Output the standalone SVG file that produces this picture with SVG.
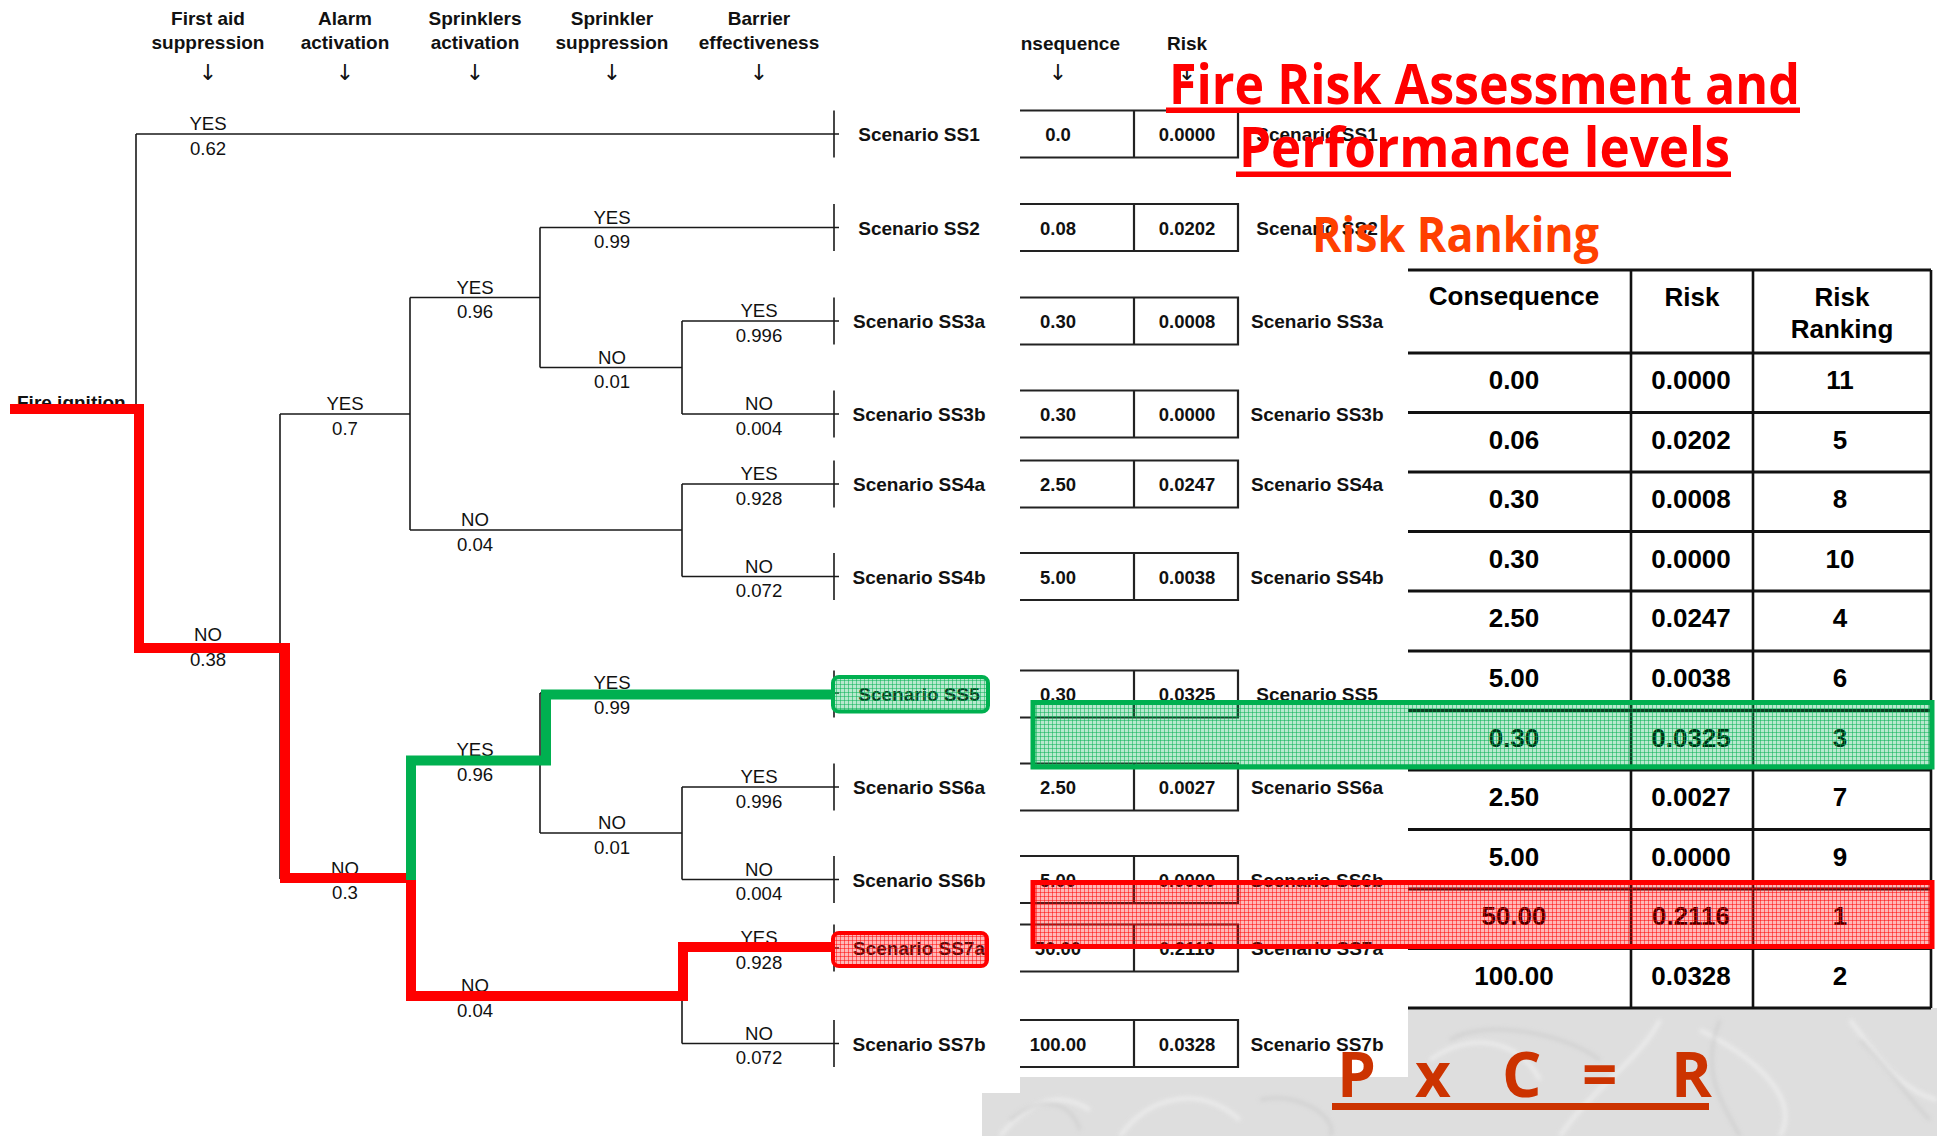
<svg xmlns="http://www.w3.org/2000/svg" width="1937" height="1136" viewBox="0 0 1937 1136">
<defs>
<style>
.hd{font-family:"Liberation Sans",Arial,sans-serif;font-weight:bold;font-size:19px;text-anchor:middle;fill:#111}
.ar{font-family:"DejaVu Sans",sans-serif;font-size:22px;text-anchor:middle;fill:#111}
.lb{font-family:"Liberation Sans",Arial,sans-serif;font-size:18.6px;text-anchor:middle;fill:#111}
.sc{font-family:"Liberation Sans",Arial,sans-serif;font-weight:bold;font-size:19px;text-anchor:middle;fill:#111}
.mv{font-family:"Liberation Sans",Arial,sans-serif;font-weight:bold;font-size:18.5px;text-anchor:middle;fill:#111}
.rv{font-family:"Liberation Sans",Arial,sans-serif;font-weight:bold;font-size:26px;text-anchor:middle;fill:#000}
.tl{stroke:#1a1a1a;stroke-width:1.6;fill:none}
.mt{stroke:#222;stroke-width:2.2;fill:none}
.rh{stroke:#111;stroke-width:3.2;fill:none}
.rvl{stroke:#111;stroke-width:2.6;fill:none}
.title{font-family:"Open Sans","Liberation Sans",sans-serif;font-weight:bold}
</style>
<pattern id="pg" width="4" height="4" patternUnits="userSpaceOnUse"><rect width="4" height="4" fill="#00B050" fill-opacity="0.28"/><path d="M0,0.5H4M0.5,0V4" stroke="#00B050" stroke-opacity="0.5" stroke-width="1"/></pattern>
<pattern id="pr" width="4" height="4" patternUnits="userSpaceOnUse"><rect width="4" height="4" fill="#FF0000" fill-opacity="0.28"/><path d="M0,0.5H4M0.5,0V4" stroke="#FF0000" stroke-opacity="0.5" stroke-width="1"/></pattern>
<filter id="soft" x="-10%" y="-10%" width="120%" height="120%"><feGaussianBlur stdDeviation="2"/></filter>
</defs>
<rect width="1937" height="1136" fill="#fff"/>
<g id="texture">
<path d="M982,1136 L982,1093 L1020,1093 L1020,1077 L1408,1077 L1408,1008 L1937,1008 L1937,1136 Z" fill="#dedede"/>
<g fill="none" stroke="#f2f2f2" stroke-width="4" opacity="0.7" filter="url(#soft)">
<path d="M1000,1136 C1030,1100 1060,1090 1090,1110"/>
<path d="M1120,1136 C1150,1095 1200,1085 1240,1120"/>
<path d="M1430,1060 C1470,1030 1520,1040 1540,1080"/>
<path d="M1700,1030 C1760,1060 1800,1100 1780,1136"/>
<path d="M1850,1020 C1880,1060 1900,1090 1937,1100"/>
<path d="M1560,1136 C1590,1090 1640,1060 1660,1020"/>
</g>
<g fill="none" stroke="#c6c6c6" stroke-width="3" opacity="0.6" filter="url(#soft)">
<path d="M1010,1120 C1040,1095 1070,1100 1080,1130"/>
<path d="M1260,1100 C1300,1090 1340,1120 1330,1136"/>
<path d="M1450,1040 C1480,1020 1560,1030 1600,1060"/>
<path d="M1860,1040 C1890,1070 1910,1100 1930,1120"/>
<path d="M1740,1136 C1720,1100 1700,1070 1720,1020"/>
</g>
</g>

<g id="headers">
<text class="hd" x="208" y="25">First aid</text><text class="hd" x="208" y="48.5">suppression</text><text class="ar" x="208" y="80">↓</text>
<text class="hd" x="345" y="25">Alarm</text><text class="hd" x="345" y="48.5">activation</text><text class="ar" x="345" y="80">↓</text>
<text class="hd" x="475" y="25">Sprinklers</text><text class="hd" x="475" y="48.5">activation</text><text class="ar" x="475" y="80">↓</text>
<text class="hd" x="612" y="25">Sprinkler</text><text class="hd" x="612" y="48.5">suppression</text><text class="ar" x="612" y="80">↓</text>
<text class="hd" x="759" y="25">Barrier</text><text class="hd" x="759" y="48.5">effectiveness</text><text class="ar" x="759" y="80">↓</text>
<text class="hd" x="1120" y="49.5" style="text-anchor:end">nsequence</text><text class="ar" x="1058" y="80">↓</text>
<text class="hd" x="1187" y="49.5">Risk</text><text class="ar" x="1187" y="80">↓</text>
</g>

<g id="connectors">
<path class="tl" d="M10,409H136 M136,134V648 M136,134H839 M136,645H280"/>
<path class="tl" d="M280,414V879 M280,414H410 M280,879H410"/>
<path class="tl" d="M410,297.5V530 M410,297.5H540 M410,530H682"/>
<path class="tl" d="M410,760V996 M410,760H540 M410,996H682"/>
<path class="tl" d="M540,227.5V367.5 M540,227.5H839 M540,367.5H682"/>
<path class="tl" d="M540,693V833 M540,693H839 M540,833H682"/>
<path class="tl" d="M682,321V414 M682,321H839 M682,414H839"/>
<path class="tl" d="M682,484V576.5 M682,484H839 M682,576.5H839"/>
<path class="tl" d="M682,787V879.5 M682,787H839 M682,879.5H839"/>
<path class="tl" d="M682,948V1043.5 M682,948H839 M682,1043.5H839"/>
<path class="tl" d="M834,110.5v47 M834,204v47 M834,297.5v47 M834,390.5v47 M834,460.5v47 M834,553v47 M834,670.5v47 M834,763.5v47 M834,856v47 M834,924.5v47 M834,1020v47"/>
</g>

<g id="branch-labels">
<text class="lb" x="208" y="130">YES</text><text class="lb" x="208" y="154.5">0.62</text>
<text class="lb" x="208" y="641">NO</text><text class="lb" x="208" y="666">0.38</text>
<text class="lb" x="345" y="410">YES</text><text class="lb" x="345" y="434.5">0.7</text>
<text class="lb" x="345" y="875">NO</text><text class="lb" x="345" y="899">0.3</text>
<text class="lb" x="475" y="293.5">YES</text><text class="lb" x="475" y="318">0.96</text>
<text class="lb" x="475" y="526">NO</text><text class="lb" x="475" y="550.5">0.04</text>
<text class="lb" x="475" y="756">YES</text><text class="lb" x="475" y="781">0.96</text>
<text class="lb" x="475" y="992">NO</text><text class="lb" x="475" y="1016.5">0.04</text>
<text class="lb" x="612" y="223.5">YES</text><text class="lb" x="612" y="248">0.99</text>
<text class="lb" x="612" y="363.5">NO</text><text class="lb" x="612" y="388">0.01</text>
<text class="lb" x="612" y="689">YES</text><text class="lb" x="612" y="713.5">0.99</text>
<text class="lb" x="612" y="829">NO</text><text class="lb" x="612" y="853.5">0.01</text>
<text class="lb" x="759" y="317">YES</text><text class="lb" x="759" y="341.5">0.996</text>
<text class="lb" x="759" y="410">NO</text><text class="lb" x="759" y="434.5">0.004</text>
<text class="lb" x="759" y="480">YES</text><text class="lb" x="759" y="504.5">0.928</text>
<text class="lb" x="759" y="572.5">NO</text><text class="lb" x="759" y="597">0.072</text>
<text class="lb" x="759" y="783">YES</text><text class="lb" x="759" y="807.5">0.996</text>
<text class="lb" x="759" y="875.5">NO</text><text class="lb" x="759" y="900">0.004</text>
<text class="lb" x="759" y="944">YES</text><text class="lb" x="759" y="968.5">0.928</text>
<text class="lb" x="759" y="1039.5">NO</text><text class="lb" x="759" y="1064">0.072</text>
</g>

<g id="node-fire-ignition"><text class="sc" x="17" y="409" style="text-anchor:start">Fire ignition</text></g>
<g id="node-SS1"><text class="sc" x="919" y="141">Scenario SS1</text></g>
<g id="node-SS2"><text class="sc" x="919" y="234.5">Scenario SS2</text></g>
<g id="node-SS3a"><text class="sc" x="919" y="328">Scenario SS3a</text></g>
<g id="node-SS3b"><text class="sc" x="919" y="421">Scenario SS3b</text></g>
<g id="node-SS4a"><text class="sc" x="919" y="491">Scenario SS4a</text></g>
<g id="node-SS4b"><text class="sc" x="919" y="583.5">Scenario SS4b</text></g>
<g id="node-SS5"><text class="sc" x="919" y="701">Scenario SS5</text></g>
<g id="node-SS6a"><text class="sc" x="919" y="794">Scenario SS6a</text></g>
<g id="node-SS6b"><text class="sc" x="919" y="886.5">Scenario SS6b</text></g>
<g id="node-SS7a"><text class="sc" x="919" y="955">Scenario SS7a</text></g>
<g id="node-SS7b"><text class="sc" x="919" y="1050.5">Scenario SS7b</text></g>

<g id="scenario-table">
<path class="mt" d="M1020,110.5H1238V157.5H1020M1134,110.5V157.5"/>
<path class="mt" d="M1020,204H1238V251H1020M1134,204V251"/>
<path class="mt" d="M1020,297.5H1238V344.5H1020M1134,297.5V344.5"/>
<path class="mt" d="M1020,390.5H1238V437.5H1020M1134,390.5V437.5"/>
<path class="mt" d="M1020,460.5H1238V507.5H1020M1134,460.5V507.5"/>
<path class="mt" d="M1020,553H1238V600H1020M1134,553V600"/>
<path class="mt" d="M1020,670.5H1238V717.5H1020M1134,670.5V717.5"/>
<path class="mt" d="M1020,763.5H1238V810.5H1020M1134,763.5V810.5"/>
<path class="mt" d="M1020,856H1238V903H1020M1134,856V903"/>
<path class="mt" d="M1020,924.5H1238V971.5H1020M1134,924.5V971.5"/>
<path class="mt" d="M1020,1020H1238V1067H1020M1134,1020V1067"/>
<g class="mv">
<text x="1058" y="141">0.0</text><text x="1187" y="141">0.0000</text>
<text x="1058" y="234.5">0.08</text><text x="1187" y="234.5">0.0202</text>
<text x="1058" y="328">0.30</text><text x="1187" y="328">0.0008</text>
<text x="1058" y="421">0.30</text><text x="1187" y="421">0.0000</text>
<text x="1058" y="491">2.50</text><text x="1187" y="491">0.0247</text>
<text x="1058" y="583.5">5.00</text><text x="1187" y="583.5">0.0038</text>
<text x="1058" y="701">0.30</text><text x="1187" y="701">0.0325</text>
<text x="1058" y="794">2.50</text><text x="1187" y="794">0.0027</text>
<text x="1058" y="886.5">5.00</text><text x="1187" y="886.5">0.0000</text>
<text x="1058" y="955">50.00</text><text x="1187" y="955">0.2116</text>
<text x="1058" y="1050.5">100.00</text><text x="1187" y="1050.5">0.0328</text>
</g>
<g class="sc">
<text x="1317" y="141">Scenario SS1</text>
<text x="1317" y="234.5">Scenario SS2</text>
<text x="1317" y="328">Scenario SS3a</text>
<text x="1317" y="421">Scenario SS3b</text>
<text x="1317" y="491">Scenario SS4a</text>
<text x="1317" y="583.5">Scenario SS4b</text>
<text x="1317" y="701">Scenario SS5</text>
<text x="1317" y="794">Scenario SS6a</text>
<text x="1317" y="886.5">Scenario SS6b</text>
<text x="1317" y="955">Scenario SS7a</text>
<text x="1317" y="1050.5">Scenario SS7b</text>
</g>
</g>

<g id="risk-ranking-table">
<path class="rh" d="M1408,270H1931 M1408,353H1931 M1408,412.5H1931 M1408,472H1931 M1408,531.5H1931 M1408,591H1931 M1408,651H1931 M1408,710.5H1931 M1408,770H1931 M1408,829.5H1931 M1408,889H1931 M1408,948.5H1931 M1408,1008H1931"/>
<path class="rvl" d="M1631,270V1008 M1753,270V1008 M1931,270V1008"/>
<g class="rv">
<text x="1514" y="305">Consequence</text><text x="1692" y="306">Risk</text><text x="1842" y="306">Risk</text><text x="1842" y="338">Ranking</text>
<text x="1514" y="389">0.00</text><text x="1691" y="389">0.0000</text><text x="1840" y="389">11</text>
<text x="1514" y="448.5">0.06</text><text x="1691" y="448.5">0.0202</text><text x="1840" y="448.5">5</text>
<text x="1514" y="508">0.30</text><text x="1691" y="508">0.0008</text><text x="1840" y="508">8</text>
<text x="1514" y="567.5">0.30</text><text x="1691" y="567.5">0.0000</text><text x="1840" y="567.5">10</text>
<text x="1514" y="627">2.50</text><text x="1691" y="627">0.0247</text><text x="1840" y="627">4</text>
<text x="1514" y="687">5.00</text><text x="1691" y="687">0.0038</text><text x="1840" y="687">6</text>
<text x="1514" y="746.5">0.30</text><text x="1691" y="746.5">0.0325</text><text x="1840" y="746.5">3</text>
<text x="1514" y="806">2.50</text><text x="1691" y="806">0.0027</text><text x="1840" y="806">7</text>
<text x="1514" y="865.5">5.00</text><text x="1691" y="865.5">0.0000</text><text x="1840" y="865.5">9</text>
<text x="1514" y="925">50.00</text><text x="1691" y="925">0.2116</text><text x="1840" y="925">1</text>
<text x="1514" y="984.5">100.00</text><text x="1691" y="984.5">0.0328</text><text x="1840" y="984.5">2</text>
</g>
</g>

<g id="highlight-paths" fill="none" stroke-linejoin="miter" stroke-linecap="butt">
<path d="M10,409H139V648H285V878H411V996H683V947H834" stroke="#FF0000" stroke-width="10"/>
<path d="M832,694.5H546V760.5H411V880" stroke="#00B050" stroke-width="10"/>
</g>

<g id="highlight-boxes">
<rect x="833" y="677" width="155" height="34.5" rx="6" fill="url(#pg)" stroke="#00B050" stroke-width="4"/>
<rect x="833" y="933" width="154" height="33" rx="6" fill="url(#pr)" stroke="#FF0000" stroke-width="4"/>
<rect x="1033" y="702.5" width="899" height="64.5" fill="url(#pg)" stroke="#00B050" stroke-width="5"/>
<rect x="1033" y="882.5" width="899" height="64" fill="url(#pr)" stroke="#FF0000" stroke-width="5"/>
</g>

<g id="titles">
<text class="title" x="1169" y="104" font-size="55" fill="#FF0000" textLength="631" lengthAdjust="spacingAndGlyphs">Fire Risk Assessment and</text>
<rect x="1166" y="107.5" width="634" height="5.5" fill="#FF0000"/>
<text class="title" x="1239" y="166.5" font-size="55" fill="#FF0000" textLength="491" lengthAdjust="spacingAndGlyphs">Performance levels</text>
<rect x="1236" y="171.5" width="495" height="5.5" fill="#FF0000"/>
<text class="title" x="1312" y="252" font-size="48" fill="#FF4000" textLength="287" lengthAdjust="spacingAndGlyphs">Risk Ranking</text>
<text class="title" x="1337 1390 1415 1480 1502 1570 1582 1650 1671" y="1097" font-size="62" fill="#CC3300">P x C = R</text>
<rect x="1332" y="1103" width="377" height="7" fill="#CC3300"/>
</g>
</svg>
